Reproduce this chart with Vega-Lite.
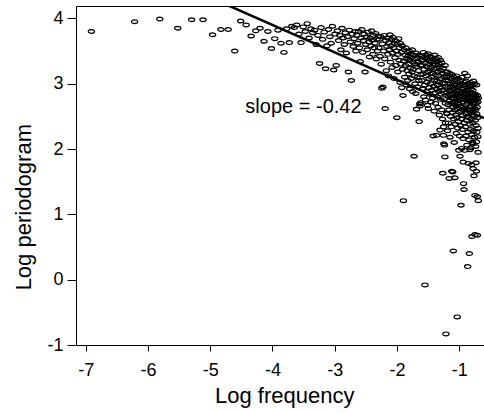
{
"$schema": "https://vega.github.io/schema/vega-lite/v6.json",
"width": 408, "height": 339,
"autosize": "none",
"padding": {"left": 76, "top": 6, "right": 0, "bottom": 68},
"background": "white",
"config": {
 "view": {"stroke": null},
 "font": "Liberation Sans",
 "axis": {"grid": false, "domainColor": "black", "domainWidth": 1, "tickColor": "black", "tickWidth": 1, "labelColor": "black", "titleColor": "black", "labelFont": "Liberation Sans", "titleFont": "Liberation Sans", "labelFontSize": 18, "titleFontSize": 22, "titleFontWeight": "normal", "labelFlush": false, "labelOverlap": false}
},
"datasets": {"pg": [
{"freq":0.001,"logp":3.80},{"freq":0.002,"logp":3.95},{"freq":0.003,"logp":3.99},{"freq":0.004,"logp":3.85},{"freq":0.005,"logp":3.98},{"freq":0.006,"logp":3.98},{"freq":0.007,"logp":3.75},{"freq":0.008,"logp":3.83},{"freq":0.009,"logp":3.83},{"freq":0.010,"logp":3.50},
{"freq":0.011,"logp":3.96},{"freq":0.012,"logp":3.90},{"freq":0.013,"logp":3.73},{"freq":0.014,"logp":3.81},{"freq":0.015,"logp":3.85},{"freq":0.016,"logp":3.65},{"freq":0.017,"logp":3.80},{"freq":0.018,"logp":3.54},{"freq":0.019,"logp":3.69},{"freq":0.020,"logp":3.82},
{"freq":0.021,"logp":3.62},{"freq":0.022,"logp":3.48},{"freq":0.023,"logp":3.84},{"freq":0.024,"logp":3.63},{"freq":0.025,"logp":3.88},{"freq":0.026,"logp":3.86},{"freq":0.027,"logp":3.90},{"freq":0.028,"logp":3.76},{"freq":0.029,"logp":3.63},{"freq":0.030,"logp":3.87},
{"freq":0.031,"logp":3.80},{"freq":0.032,"logp":3.92},{"freq":0.033,"logp":3.70},{"freq":0.034,"logp":3.84},{"freq":0.035,"logp":3.78},{"freq":0.036,"logp":3.82},{"freq":0.037,"logp":3.60},{"freq":0.038,"logp":3.74},{"freq":0.039,"logp":3.31},{"freq":0.040,"logp":3.86},
{"freq":0.041,"logp":3.68},{"freq":0.042,"logp":3.79},{"freq":0.043,"logp":3.23},{"freq":0.044,"logp":3.58},{"freq":0.045,"logp":3.83},{"freq":0.046,"logp":3.72},{"freq":0.047,"logp":3.62},{"freq":0.048,"logp":3.88},{"freq":0.049,"logp":3.21},{"freq":0.050,"logp":3.76},
{"freq":0.051,"logp":3.28},{"freq":0.052,"logp":3.81},{"freq":0.053,"logp":3.66},{"freq":0.054,"logp":3.74},{"freq":0.055,"logp":3.52},{"freq":0.056,"logp":3.85},{"freq":0.057,"logp":3.70},{"freq":0.058,"logp":3.60},{"freq":0.059,"logp":3.78},{"freq":0.060,"logp":3.47},
{"freq":0.061,"logp":3.72},{"freq":0.062,"logp":3.18},{"freq":0.063,"logp":3.82},{"freq":0.064,"logp":3.64},{"freq":0.065,"logp":3.05},{"freq":0.066,"logp":3.76},{"freq":0.067,"logp":3.57},{"freq":0.068,"logp":3.69},{"freq":0.069,"logp":3.80},{"freq":0.070,"logp":3.50},
{"freq":0.071,"logp":3.74},{"freq":0.072,"logp":3.62},{"freq":0.073,"logp":3.80},{"freq":0.074,"logp":3.55},{"freq":0.075,"logp":3.34},{"freq":0.076,"logp":3.70},{"freq":0.077,"logp":3.83},{"freq":0.078,"logp":3.48},{"freq":0.079,"logp":3.66},{"freq":0.080,"logp":3.76},
{"freq":0.081,"logp":3.18},{"freq":0.082,"logp":3.60},{"freq":0.083,"logp":3.72},{"freq":0.084,"logp":3.52},{"freq":0.085,"logp":3.79},{"freq":0.086,"logp":3.64},{"freq":0.087,"logp":3.41},{"freq":0.088,"logp":3.70},{"freq":0.089,"logp":3.58},{"freq":0.090,"logp":3.81},
{"freq":0.091,"logp":3.67},{"freq":0.092,"logp":3.45},{"freq":0.093,"logp":3.74},{"freq":0.094,"logp":3.55},{"freq":0.095,"logp":3.62},{"freq":0.096,"logp":3.77},{"freq":0.097,"logp":3.38},{"freq":0.098,"logp":3.68},{"freq":0.099,"logp":3.50},{"freq":0.100,"logp":3.73},
{"freq":0.101,"logp":3.55},{"freq":0.102,"logp":3.68},{"freq":0.103,"logp":3.42},{"freq":0.104,"logp":3.72},{"freq":0.105,"logp":3.30},{"freq":0.106,"logp":2.93},{"freq":0.107,"logp":3.61},{"freq":0.108,"logp":2.95},{"freq":0.109,"logp":3.50},{"freq":0.110,"logp":3.74},
{"freq":0.111,"logp":3.38},{"freq":0.112,"logp":2.62},{"freq":0.113,"logp":3.66},{"freq":0.114,"logp":3.20},{"freq":0.115,"logp":3.57},{"freq":0.116,"logp":3.70},{"freq":0.117,"logp":3.45},{"freq":0.118,"logp":3.12},{"freq":0.119,"logp":3.63},{"freq":0.120,"logp":3.52},
{"freq":0.121,"logp":3.75},{"freq":0.122,"logp":3.33},{"freq":0.123,"logp":3.58},{"freq":0.124,"logp":3.68},{"freq":0.125,"logp":3.25},{"freq":0.126,"logp":3.47},{"freq":0.127,"logp":3.71},{"freq":0.128,"logp":3.55},{"freq":0.129,"logp":3.08},{"freq":0.130,"logp":3.62},
{"freq":0.131,"logp":3.40},{"freq":0.132,"logp":3.66},{"freq":0.133,"logp":3.28},{"freq":0.134,"logp":3.50},{"freq":0.135,"logp":2.48},{"freq":0.136,"logp":3.60},{"freq":0.137,"logp":3.18},{"freq":0.138,"logp":3.45},{"freq":0.139,"logp":3.69},{"freq":0.140,"logp":3.36},
{"freq":0.141,"logp":3.55},{"freq":0.142,"logp":3.02},{"freq":0.143,"logp":3.62},{"freq":0.144,"logp":3.30},{"freq":0.145,"logp":3.48},{"freq":0.146,"logp":2.94},{"freq":0.147,"logp":3.58},{"freq":0.148,"logp":3.22},{"freq":0.149,"logp":2.82},{"freq":0.150,"logp":1.21},
{"freq":0.151,"logp":3.35},{"freq":0.152,"logp":3.52},{"freq":0.153,"logp":3.10},{"freq":0.154,"logp":3.44},{"freq":0.155,"logp":3.28},{"freq":0.156,"logp":3.55},{"freq":0.157,"logp":2.98},{"freq":0.158,"logp":3.38},{"freq":0.159,"logp":3.20},{"freq":0.160,"logp":3.48},
{"freq":0.161,"logp":3.05},{"freq":0.162,"logp":3.42},{"freq":0.163,"logp":3.30},{"freq":0.164,"logp":3.15},{"freq":0.165,"logp":3.50},{"freq":0.166,"logp":2.92},{"freq":0.167,"logp":3.36},{"freq":0.168,"logp":3.24},{"freq":0.169,"logp":3.46},{"freq":0.170,"logp":3.08},
{"freq":0.171,"logp":3.40},{"freq":0.172,"logp":3.18},{"freq":0.173,"logp":3.52},{"freq":0.174,"logp":2.88},{"freq":0.175,"logp":3.33},{"freq":0.176,"logp":3.22},{"freq":0.177,"logp":3.44},{"freq":0.178,"logp":1.89},{"freq":0.179,"logp":3.12},{"freq":0.180,"logp":3.38},
{"freq":0.181,"logp":3.00},{"freq":0.182,"logp":3.30},{"freq":0.183,"logp":2.85},{"freq":0.184,"logp":3.47},{"freq":0.185,"logp":2.61},{"freq":0.186,"logp":3.26},{"freq":0.187,"logp":3.10},{"freq":0.188,"logp":3.40},{"freq":0.189,"logp":2.95},{"freq":0.190,"logp":3.34},
{"freq":0.191,"logp":3.20},{"freq":0.192,"logp":3.05},{"freq":0.193,"logp":2.42},{"freq":0.194,"logp":3.44},{"freq":0.195,"logp":2.69},{"freq":0.196,"logp":2.66},{"freq":0.197,"logp":3.28},{"freq":0.198,"logp":2.71},{"freq":0.199,"logp":3.14},{"freq":0.200,"logp":3.36},
{"freq":0.201,"logp":3.42},{"freq":0.202,"logp":3.05},{"freq":0.203,"logp":3.28},{"freq":0.204,"logp":2.92},{"freq":0.205,"logp":3.36},{"freq":0.206,"logp":3.15},{"freq":0.207,"logp":3.48},{"freq":0.208,"logp":2.80},{"freq":0.209,"logp":3.22},{"freq":0.210,"logp":3.40},
{"freq":0.211,"logp":2.98},{"freq":0.212,"logp":-0.08},{"freq":0.213,"logp":3.32},{"freq":0.214,"logp":2.75},{"freq":0.215,"logp":3.12},{"freq":0.216,"logp":3.44},{"freq":0.217,"logp":2.88},{"freq":0.218,"logp":3.26},{"freq":0.219,"logp":3.02},{"freq":0.220,"logp":3.38},
{"freq":0.221,"logp":2.67},{"freq":0.222,"logp":3.18},{"freq":0.223,"logp":3.46},{"freq":0.224,"logp":2.62},{"freq":0.225,"logp":3.30},{"freq":0.226,"logp":3.08},{"freq":0.227,"logp":2.94},{"freq":0.228,"logp":3.35},{"freq":0.229,"logp":3.20},{"freq":0.230,"logp":2.84},
{"freq":0.231,"logp":3.42},{"freq":0.232,"logp":3.00},{"freq":0.233,"logp":3.25},{"freq":0.234,"logp":2.72},{"freq":0.235,"logp":3.33},{"freq":0.236,"logp":3.10},{"freq":0.237,"logp":2.90},{"freq":0.238,"logp":3.40},{"freq":0.239,"logp":3.16},{"freq":0.240,"logp":2.78},
{"freq":0.241,"logp":3.28},{"freq":0.242,"logp":2.20},{"freq":0.243,"logp":3.36},{"freq":0.244,"logp":2.96},{"freq":0.245,"logp":3.22},{"freq":0.246,"logp":2.58},{"freq":0.247,"logp":3.06},{"freq":0.248,"logp":3.44},{"freq":0.249,"logp":2.86},{"freq":0.250,"logp":3.30},
{"freq":0.251,"logp":2.70},{"freq":0.252,"logp":3.14},{"freq":0.253,"logp":3.38},{"freq":0.254,"logp":2.92},{"freq":0.255,"logp":3.24},{"freq":0.256,"logp":2.21},{"freq":0.257,"logp":3.04},{"freq":0.258,"logp":2.80},{"freq":0.259,"logp":3.34},{"freq":0.260,"logp":2.98},
{"freq":0.261,"logp":3.18},{"freq":0.262,"logp":2.64},{"freq":0.263,"logp":3.40},{"freq":0.264,"logp":2.88},{"freq":0.265,"logp":3.12},{"freq":0.266,"logp":3.30},{"freq":0.267,"logp":2.52},{"freq":0.268,"logp":3.02},{"freq":0.269,"logp":3.26},{"freq":0.270,"logp":2.29},
{"freq":0.271,"logp":2.94},{"freq":0.272,"logp":3.36},{"freq":0.273,"logp":2.76},{"freq":0.274,"logp":3.20},{"freq":0.275,"logp":2.84},{"freq":0.276,"logp":3.08},{"freq":0.277,"logp":2.60},{"freq":0.278,"logp":3.32},{"freq":0.279,"logp":2.90},{"freq":0.280,"logp":3.16},
{"freq":0.281,"logp":2.46},{"freq":0.282,"logp":1.63},{"freq":0.283,"logp":3.00},{"freq":0.284,"logp":3.24},{"freq":0.285,"logp":2.21},{"freq":0.286,"logp":2.34},{"freq":0.287,"logp":2.08},{"freq":0.288,"logp":2.86},{"freq":0.289,"logp":3.10},{"freq":0.290,"logp":2.06},
{"freq":0.291,"logp":2.96},{"freq":0.292,"logp":1.88},{"freq":0.293,"logp":3.28},{"freq":0.294,"logp":2.70},{"freq":0.295,"logp":2.40},{"freq":0.296,"logp":3.06},{"freq":0.297,"logp":-0.83},{"freq":0.298,"logp":2.82},{"freq":0.299,"logp":3.18},{"freq":0.300,"logp":2.55},
{"freq":0.301,"logp":3.10},{"freq":0.302,"logp":2.54},{"freq":0.303,"logp":2.86},{"freq":0.304,"logp":3.18},{"freq":0.305,"logp":2.28},{"freq":0.306,"logp":2.94},{"freq":0.307,"logp":2.68},{"freq":0.308,"logp":3.04},{"freq":0.309,"logp":2.40},{"freq":0.310,"logp":2.80},
{"freq":0.311,"logp":3.12},{"freq":0.312,"logp":2.60},{"freq":0.313,"logp":1.55},{"freq":0.314,"logp":2.90},{"freq":0.315,"logp":2.74},{"freq":0.316,"logp":3.16},{"freq":0.317,"logp":2.18},{"freq":0.318,"logp":2.82},{"freq":0.319,"logp":3.00},{"freq":0.320,"logp":2.50},
{"freq":0.321,"logp":2.88},{"freq":0.322,"logp":3.08},{"freq":0.323,"logp":2.34},{"freq":0.324,"logp":2.70},{"freq":0.325,"logp":2.96},{"freq":0.326,"logp":1.66},{"freq":0.327,"logp":2.78},{"freq":0.328,"logp":3.14},{"freq":0.329,"logp":2.56},{"freq":0.330,"logp":2.84},
{"freq":0.331,"logp":1.65},{"freq":0.332,"logp":3.02},{"freq":0.333,"logp":2.64},{"freq":0.334,"logp":0.44},{"freq":0.335,"logp":2.92},{"freq":0.336,"logp":2.46},{"freq":0.337,"logp":2.76},{"freq":0.338,"logp":3.10},{"freq":0.339,"logp":2.10},{"freq":0.340,"logp":2.86},
{"freq":0.341,"logp":2.60},{"freq":0.342,"logp":2.98},{"freq":0.343,"logp":1.56},{"freq":0.344,"logp":2.72},{"freq":0.345,"logp":3.06},{"freq":0.346,"logp":2.38},{"freq":0.347,"logp":2.82},{"freq":0.348,"logp":2.52},{"freq":0.349,"logp":2.94},{"freq":0.350,"logp":2.66},
{"freq":0.351,"logp":2.24},{"freq":0.352,"logp":3.12},{"freq":0.353,"logp":2.78},{"freq":0.354,"logp":2.48},{"freq":0.355,"logp":2.90},{"freq":0.356,"logp":-0.57},{"freq":0.357,"logp":2.62},{"freq":0.358,"logp":3.02},{"freq":0.359,"logp":2.32},{"freq":0.360,"logp":2.84},
{"freq":0.361,"logp":2.70},{"freq":0.362,"logp":3.08},{"freq":0.363,"logp":2.42},{"freq":0.364,"logp":2.88},{"freq":0.365,"logp":1.98},{"freq":0.366,"logp":2.74},{"freq":0.367,"logp":2.96},{"freq":0.368,"logp":2.56},{"freq":0.369,"logp":2.20},{"freq":0.370,"logp":2.80},
{"freq":0.371,"logp":3.04},{"freq":0.372,"logp":1.89},{"freq":0.373,"logp":2.66},{"freq":0.374,"logp":2.86},{"freq":0.375,"logp":2.36},{"freq":0.376,"logp":3.00},{"freq":0.377,"logp":2.58},{"freq":0.378,"logp":1.14},{"freq":0.379,"logp":2.76},{"freq":0.380,"logp":2.92},
{"freq":0.381,"logp":2.46},{"freq":0.382,"logp":2.01},{"freq":0.383,"logp":2.82},{"freq":0.384,"logp":3.10},{"freq":0.385,"logp":2.64},{"freq":0.386,"logp":2.30},{"freq":0.387,"logp":2.88},{"freq":0.388,"logp":2.52},{"freq":0.389,"logp":2.98},{"freq":0.390,"logp":2.72},
{"freq":0.391,"logp":2.16},{"freq":0.392,"logp":1.80},{"freq":0.393,"logp":2.84},{"freq":0.394,"logp":1.47},{"freq":0.395,"logp":2.94},{"freq":0.396,"logp":2.60},{"freq":0.397,"logp":1.38},{"freq":0.398,"logp":2.78},{"freq":0.399,"logp":2.40},{"freq":0.400,"logp":3.02},
{"freq":0.401,"logp":2.76},{"freq":0.402,"logp":3.16},{"freq":0.403,"logp":1.98},{"freq":0.404,"logp":2.62},{"freq":0.405,"logp":2.86},{"freq":0.406,"logp":2.34},{"freq":0.407,"logp":2.98},{"freq":0.408,"logp":2.54},{"freq":0.409,"logp":2.80},{"freq":0.410,"logp":2.20},
{"freq":0.411,"logp":3.04},{"freq":0.412,"logp":2.68},{"freq":0.413,"logp":2.44},{"freq":0.414,"logp":2.90},{"freq":0.415,"logp":2.74},{"freq":0.416,"logp":2.06},{"freq":0.417,"logp":2.84},{"freq":0.418,"logp":3.12},{"freq":0.419,"logp":2.50},{"freq":0.420,"logp":2.70},
{"freq":0.421,"logp":0.20},{"freq":0.422,"logp":2.94},{"freq":0.423,"logp":2.60},{"freq":0.424,"logp":2.26},{"freq":0.425,"logp":1.78},{"freq":0.426,"logp":2.82},{"freq":0.427,"logp":3.00},{"freq":0.428,"logp":2.48},{"freq":0.429,"logp":2.76},{"freq":0.430,"logp":2.14},
{"freq":0.431,"logp":2.88},{"freq":0.432,"logp":0.40},{"freq":0.433,"logp":2.64},{"freq":0.434,"logp":2.96},{"freq":0.435,"logp":2.38},{"freq":0.436,"logp":2.78},{"freq":0.437,"logp":1.99},{"freq":0.438,"logp":2.56},{"freq":0.439,"logp":3.02},{"freq":0.440,"logp":2.72},
{"freq":0.441,"logp":2.30},{"freq":0.442,"logp":2.86},{"freq":0.443,"logp":2.02},{"freq":0.444,"logp":2.66},{"freq":0.445,"logp":2.92},{"freq":0.446,"logp":2.46},{"freq":0.447,"logp":2.80},{"freq":0.448,"logp":2.22},{"freq":0.449,"logp":1.76},{"freq":0.450,"logp":2.74},
{"freq":0.451,"logp":0.66},{"freq":0.452,"logp":2.98},{"freq":0.453,"logp":2.52},{"freq":0.454,"logp":2.84},{"freq":0.455,"logp":2.10},{"freq":0.456,"logp":2.70},{"freq":0.457,"logp":2.40},{"freq":0.458,"logp":2.90},{"freq":0.459,"logp":1.70},{"freq":0.460,"logp":2.08},
{"freq":0.461,"logp":2.78},{"freq":0.462,"logp":2.58},{"freq":0.463,"logp":3.04},{"freq":0.464,"logp":2.28},{"freq":0.465,"logp":2.68},{"freq":0.466,"logp":1.59},{"freq":0.467,"logp":2.82},{"freq":0.468,"logp":2.50},{"freq":0.469,"logp":2.76},{"freq":0.470,"logp":2.18},
{"freq":0.471,"logp":3.00},{"freq":0.472,"logp":2.62},{"freq":0.473,"logp":1.29},{"freq":0.474,"logp":0.69},{"freq":0.475,"logp":2.74},{"freq":0.476,"logp":2.44},{"freq":0.477,"logp":2.84},{"freq":0.478,"logp":2.04},{"freq":0.479,"logp":2.60},{"freq":0.480,"logp":2.80},
{"freq":0.481,"logp":1.79},{"freq":0.482,"logp":2.36},{"freq":0.483,"logp":2.70},{"freq":0.484,"logp":1.66},{"freq":0.485,"logp":2.11},{"freq":0.486,"logp":2.98},{"freq":0.487,"logp":2.54},{"freq":0.488,"logp":2.26},{"freq":0.489,"logp":2.76},{"freq":0.490,"logp":2.64},
{"freq":0.491,"logp":1.27},{"freq":0.492,"logp":0.68},{"freq":0.493,"logp":2.82},{"freq":0.494,"logp":2.48},{"freq":0.495,"logp":2.19},{"freq":0.496,"logp":2.72},{"freq":0.497,"logp":2.32},{"freq":0.498,"logp":1.95},{"freq":0.499,"logp":1.21},{"freq":0.500,"logp":2.78}
]},
"layer": [
 {
  "data": {"name": "pg"},
  "mark": {"type": "point", "shape": "M-1,0A1,0.6,0,1,0,1,0A1,0.6,0,1,0,-1,0Z", "filled": false, "stroke": "black", "strokeWidth": 1.2, "size": 40, "opacity": 1},
  "encoding": {
   "x": {"field": "freq", "type": "quantitative",
     "scale": {"type": "log", "domain": [0.00078095, 0.54716], "nice": false},
     "axis": {"orient": "bottom", "title": "Log frequency", "values": [0.000911882, 0.002478752, 0.006737947, 0.018315639, 0.049787068, 0.135335283, 0.367879441],
       "labelExpr": "'' + round(log(datum.value))", "tickSize": 6, "labelPadding": 24, "labelBaseline": "alphabetic",
       "titleX": 208.2, "titleY": 57, "titleBaseline": "alphabetic", "titleAlign": "center"}},
   "y": {"field": "logp", "type": "quantitative",
     "scale": {"domain": [-1, 4.19], "nice": false, "zero": false},
     "axis": {"title": "Log periodogram", "values": [-1, 0, 1, 2, 3, 4], "labelExpr": "'' + datum.value",
       "tickSize": 9, "labelPadding": 4, "labelAlign": "right", "labelBaseline": "middle",
       "titleAngle": 270, "titleX": -46, "titleY": 200.7, "titleAlign": "center", "titleBaseline": "alphabetic"}}
  }
 },
 {
  "data": {"values": [{"freq": 0.00078095, "logp": 5.225}, {"freq": 0.54716, "logp": 2.473}]},
  "mark": {"type": "line", "color": "black", "strokeWidth": 2.5, "clip": true},
  "encoding": {
   "x": {"field": "freq", "type": "quantitative", "scale": {"type": "log", "domain": [0.00078095, 0.54716], "nice": false},
     "axis": {"orient": "top", "labels": false, "ticks": false, "title": null, "domain": true}},
   "y": {"field": "logp", "type": "quantitative"}
  }
 },
 {
  "data": {"values": [{"freq": 0.03013, "logp": 2.553, "label": "slope = -0.42"}]},
  "mark": {"type": "text", "align": "center", "baseline": "alphabetic", "fontSize": 20, "font": "Liberation Sans", "color": "black"},
  "encoding": {
   "x": {"field": "freq", "type": "quantitative", "scale": {"type": "log", "domain": [0.00078095, 0.54716], "nice": false}, "axis": null},
   "y": {"field": "logp", "type": "quantitative"},
   "text": {"field": "label"}
  }
 }
],
"resolve": {"axis": {"x": "independent"}}
}
